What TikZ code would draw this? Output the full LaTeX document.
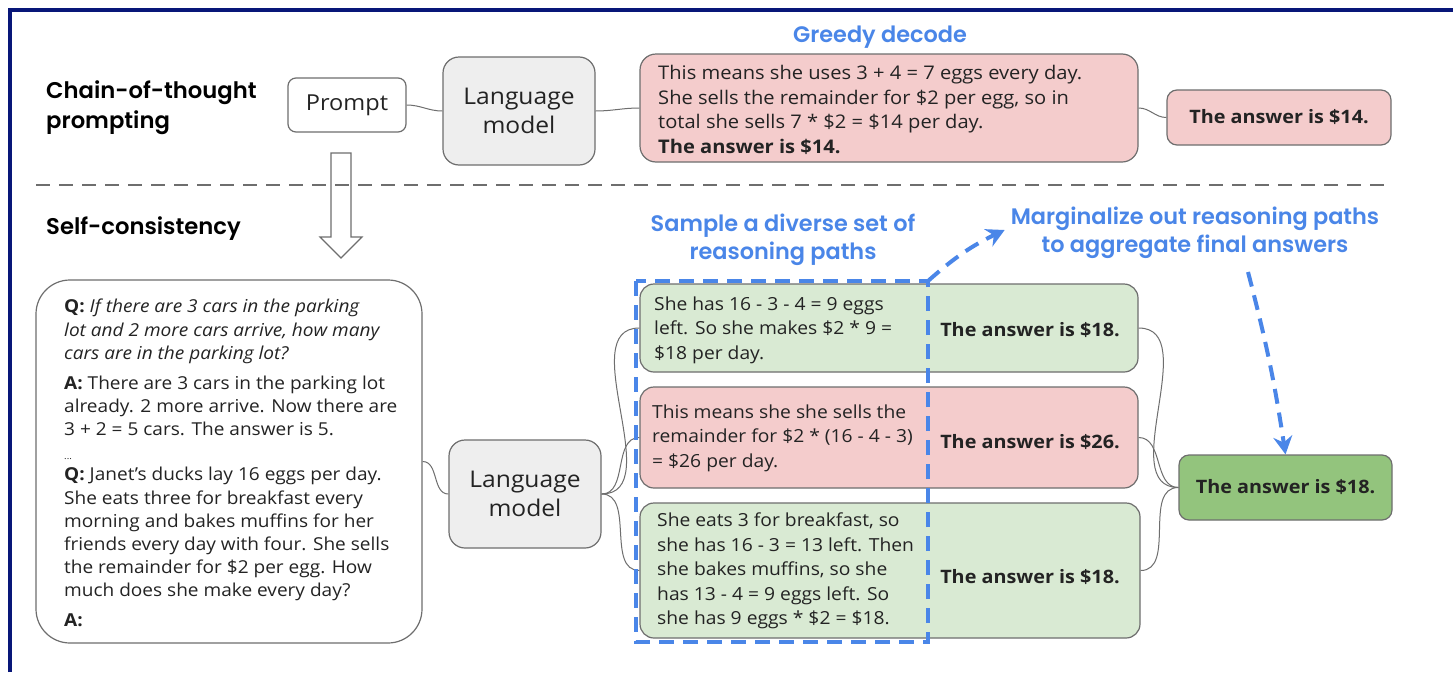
\documentclass[tikz,border=0pt]{standalone}
\usepackage{fontspec}
\setmainfont{Open Sans}[FakeStretch=1.07]
\newfontfamily\headfont{Poppins}[BoldFont={Poppins SemiBold}]
\usetikzlibrary{arrows.meta}
\definecolor{navy}{RGB}{8,22,120}
\definecolor{edge}{RGB}{110,110,110}
\definecolor{gfill}{RGB}{238,238,238}
\definecolor{rfill}{RGB}{244,204,204}
\definecolor{gnfill}{RGB}{217,234,211}
\definecolor{gdark}{RGB}{147,196,125}
\definecolor{blu}{RGB}{74,134,232}
\definecolor{txt}{RGB}{35,35,35}
\begin{document}
\begin{tikzpicture}[x=1pt,y=-1pt,
  box/.style={draw=edge, line width=1.2pt, rounded corners=12pt, inner sep=0pt},
  conn/.style={draw=edge, line width=1pt},
  body/.style={font=\fontsize{18}{24.5}\selectfont, text=txt, align=left, anchor=west, inner sep=0pt},
  lbody/.style={font=\fontsize{17.8}{23.2}\selectfont, text=txt, align=left, anchor=west, inner sep=0pt},
  ans/.style={font=\fontsize{18.5}{24}\selectfont\bfseries, text=txt, inner sep=0pt},
  head/.style={font=\headfont\fontsize{22.7}{30}\selectfont\bfseries, text=black, align=left, anchor=west, inner sep=0pt},
  bluelab/.style={font=\headfont\fontsize{22.4}{28}\selectfont\bfseries, text=blu, align=center, inner sep=0pt},
  bluedash/.style={draw=blu, line width=4pt, dash pattern=on 15pt off 9pt},
  bluearrow/.style={bluedash, -{Stealth[length=18pt,width=19pt,inset=6pt]}},
  lmtext/.style={font=\fontsize{23}{29}\selectfont, text=txt, align=center}
]
\useasboundingbox (0,0) rectangle (1453,672);
\fill[white] (0,0) rectangle (1453,672);
\draw[navy, line width=4pt] (10,672) -- (10,10) -- (1453,10);

% --- top: chain-of-thought
\node[head] (cot) at (46,108) {Chain-of-thought\\prompting};
\node[box, fill=white, rounded corners=8pt, minimum width=118pt, minimum height=54pt,
      font=\fontsize{22}{26}\selectfont, text=txt] (prompt) at (347,105) {Prompt};
\node[box, fill=gfill, rounded corners=16pt, minimum width=152pt, minimum height=108pt, lmtext] (lm1) at (519,111) {Language\\model};
\node[bluelab] (greedylab) at (880,37) {Greedy decode};
\node[box, fill=rfill, rounded corners=16pt, minimum width=498pt, minimum height=108pt] (greedy) at (889,108) {};
\node[body, font=\fontsize{18.8}{24.5}\selectfont] (greedytxt) at (658,110) {This means she uses 3 + 4 = 7 eggs every day.\\She sells the remainder for \$2 per egg, so in\\total she sells 7 * \$2 = \$14 per day.\\\textbf{The answer is \$14.}};
\node[box, fill=rfill, rounded corners=10pt, minimum width=224pt, minimum height=55pt, ans] (ans14) at (1279,117.5) {The answer is \$14.};

\draw[conn] (prompt.east) to[out=0,in=180] (lm1.west);
\draw[conn] (lm1.east) to[out=0,in=180] (greedy.west);
\draw[conn] (greedy.east) to[out=0,in=180] (ans14.west);

% --- hollow arrow and separator
\draw[edge, line width=1.2pt, line join=miter] (331,153) -- (351,153) -- (351,237) -- (362,237) -- (341,258) -- (320,237) -- (331,237) -- cycle;
\coordinate (sepL) at (36,185);
\coordinate (sepR) at (1390,185);
\draw[edge, line width=2.5pt, dash pattern=on 14pt off 9pt] (sepL) -- (sepR);

% --- bottom: self-consistency
\node[head] (sc) at (46,229) {Self-consistency};
\node[box, fill=white, rounded corners=34pt, minimum width=386pt, minimum height=363pt] (left) at (229,461.5) {};
\node[lbody] (lefttxt) at (64,463) {\textbf{Q:} \textit{If there are 3 cars in the parking}\\
\textit{lot and 2 more cars arrive, how many}\\
\textit{cars are in the parking lot?}\\[6.5pt]
\textbf{A:} There are 3 cars in the parking lot\\
already. 2 more arrive. Now there are\\
3 + 2 = 5 cars. The answer is 5.\\[0.5pt]
{\fontsize{9}{10}\selectfont ...}\\[-1.5pt]
\textbf{Q:} Janet’s ducks lay 16 eggs per day.\\
She eats three for breakfast every\\
morning and bakes muffins for her\\
friends every day with four. She sells\\
the remainder for \$2 per egg. How\\
much does she make every day?\\[6.5pt]
\textbf{A:}};

\node[box, fill=gfill, rounded corners=16pt, minimum width=152pt, minimum height=108pt, lmtext] (lm2) at (525,494) {Language\\model};

\node[bluelab] (samplelab) at (783,240) {Sample a diverse set of\\reasoning paths};
\node[bluelab] (marglab) at (1195,233) {Marginalize out reasoning paths\\to aggregate final answers};

\node[box, fill=gnfill, rounded corners=14pt, minimum width=498pt, minimum height=88pt] (b1) at (889,328) {};
\node[body] (b1txt) at (654,330) {She has 16 - 3 - 4 = 9 eggs\\left. So she makes \$2 * 9 =\\\$18 per day.};
\node[ans] (b1ans) at (1030,330) {The answer is \$18.};

\node[box, fill=rfill, rounded corners=14pt, minimum width=498pt, minimum height=101pt] (b2) at (889,437.5) {};
\node[body] (b2txt) at (652,438) {This means she she sells the\\remainder for \$2 * (16 - 4 - 3)\\= \$26 per day.};
\node[ans] (b2ans) at (1030,442) {The answer is \$26.};

\node[box, fill=gnfill, rounded corners=14pt, minimum width=500pt, minimum height=135pt] (b3) at (890,570.5) {};
\node[body] (b3txt) at (657,571) {She eats 3 for breakfast, so\\she has 16 - 3 = 13 left. Then\\she bakes muffins, so she\\has 13 - 4 = 9 eggs left. So\\she has 9 eggs * \$2 = \$18.};
\node[ans] (b3ans) at (1030,577) {The answer is \$18.};

\node[box, fill=gdark, rounded corners=10pt, minimum width=213pt, minimum height=65pt, ans] (final) at (1285.5,487.5) {The answer is \$18.};

% connectors
\draw[conn] (left.east) to[out=0,in=180] (lm2.west);
\draw[conn] (lm2.east) to[out=0,in=180] (b1.west);
\draw[conn] (lm2.east) to[out=0,in=180] (b2.west);
\draw[conn] (lm2.east) to[out=0,in=180] (b3.west);
\draw[conn] (b1.east) to[out=0,in=180] (final.west);
\draw[conn] (b2.east) to[out=0,in=180] (final.west);
\draw[conn] (b3.east) to[out=0,in=180] (final.west);

% blue dashed selection and arrows
\coordinate (selNW) at (636,281);
\coordinate (selSE) at (928,642);
\coordinate (selNE) at (928,281);
\draw[bluedash] (selNW) rectangle (selSE);
\draw[bluearrow] (selNE) to[bend left=8] ([xshift=-6pt,yshift=3pt]marglab.west);
\coordinate (mstart) at (1248,272);
\draw[bluearrow] (mstart) to[bend left=3] (final.north);
\end{tikzpicture}
\end{document}
